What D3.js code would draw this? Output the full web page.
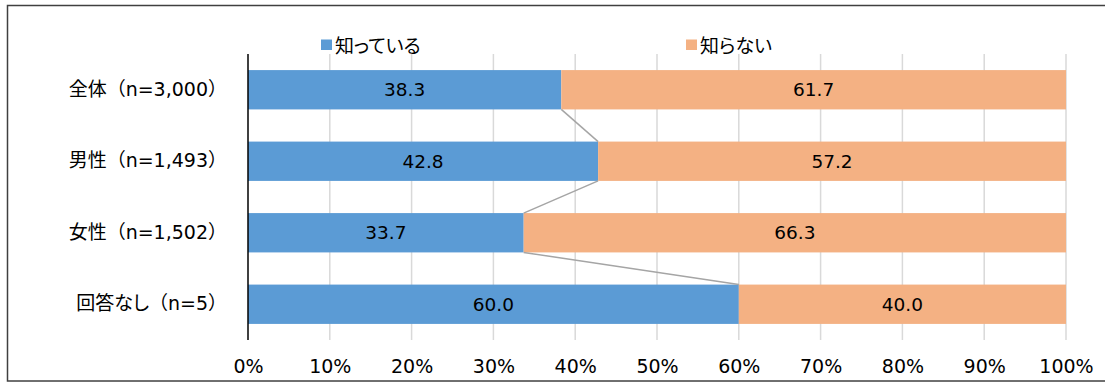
<!DOCTYPE html>
<html><head><meta charset="utf-8">
<script src="https://cdn.jsdelivr.net/npm/d3@7"></script>
<style>
html,body{margin:0;padding:0;background:#fff;}
svg{display:block;}
svg text{font-family:"DejaVu Sans","Noto Sans CJK JP",sans-serif;}
.palt{font-feature-settings:"palt" 1;}
</style></head>
<body>
<svg id="c" width="1105" height="383"></svg>
<script>
const categories = ["全体（n=3,000）","男性（n=1,493）","女性（n=1,502）","回答なし（n=5）"];
const seriesNames = ["知っている","知らない"];
const known = [38.3, 42.8, 33.7, 60.0];
const unknown = [61.7, 57.2, 66.3, 40.0];
const tickValues = [0,10,20,30,40,50,60,70,80,90,100];
const colors = ["#5b9bd5","#f4b183"];

const svg = d3.select("#c");
const fs = 19;

// outer frame
svg.append("rect").attr("x",7.5).attr("y",5.5).attr("width",1120).attr("height",375.5)
  .attr("fill","none").attr("stroke","#404040").attr("stroke-width",1.5);

const x = d3.scaleLinear().domain([0,100]).range([248,1066]);
const y = d3.scaleBand().domain(categories).range([54,340]).paddingInner(0.45).paddingOuter(0.225);

// gridlines
svg.append("g").selectAll("line").data(tickValues.slice(1)).join("line")
  .attr("x1",d=>x(d)).attr("x2",d=>x(d)).attr("y1",54).attr("y2",340)
  .attr("stroke","#d9d9d9").attr("stroke-width",1.5);

const rows = categories.map((c,i)=>({cat:c, vals:[known[i], unknown[i]]}));

// bars
rows.forEach(r=>{
  let acc=0;
  r.vals.forEach((v,j)=>{
    const g = svg.append("g");
    g.append("rect").attr("x",x(acc)).attr("y",y(r.cat)).attr("width",x(acc+v)-x(acc)).attr("height",y.bandwidth())
      .attr("fill",colors[j]);
    g.append("text").attr("x",(x(acc)+x(acc+v))/2).attr("y",y(r.cat)+y.bandwidth()/2)
      .attr("dy","0.36em").attr("text-anchor","middle").attr("font-size",18.5).attr("fill","#000")
      .text(v.toFixed(1));
    acc+=v;
  });
});

// series lines
for(let i=0;i<categories.length-1;i++){
  svg.append("line")
    .attr("x1",x(known[i])).attr("y1",y(categories[i])+y.bandwidth())
    .attr("x2",x(known[i+1])).attr("y2",y(categories[i+1]))
    .attr("stroke","#a5a5a5").attr("stroke-width",1.5);
}

// axis line at 0
svg.append("line").attr("x1",x(0)).attr("x2",x(0)).attr("y1",54).attr("y2",340)
  .attr("stroke","#000").attr("stroke-width",1.5);

// x tick labels
const xa = svg.append("g").attr("transform","translate(0,340)")
  .call(d3.axisBottom(x).tickValues(tickValues).tickFormat(d=>d+"%").tickSize(0).tickPadding(20));
xa.attr("font-family",null).attr("font-size",null);
xa.select(".domain").remove();
xa.selectAll("text").attr("font-size",fs).attr("fill","#000");

// y labels (proportional kana, full-width parentheses)
const ya = svg.append("g").attr("transform","translate(227,0)")
  .call(d3.axisLeft(y).tickSize(0).tickPadding(0));
ya.attr("font-family",null).attr("font-size",null);
ya.select(".domain").remove();
ya.selectAll("text").attr("font-size",fs).attr("fill","#000").each(function(d){
  const t = d3.select(this);
  t.text(null);
  (d.match(/[\u3040-\u309f]+|[^\u3040-\u309f]+/g) || []).forEach(run=>{
    const sp = t.append("tspan").text(run);
    if (/[\u3040-\u309f]/.test(run)) sp.attr("class","palt");
  });
});

// legend
const legX = [321, 686];
seriesNames.forEach((n,i)=>{
  svg.append("rect").attr("x",legX[i]).attr("y",39.5).attr("width",11).attr("height",10.5).attr("fill",colors[i]);
  svg.append("text").attr("class","palt").attr("x",legX[i]+14).attr("y",46).attr("dy","0.38em").attr("font-size",fs).attr("fill","#000").text(n);
});
</script>
</body></html>
